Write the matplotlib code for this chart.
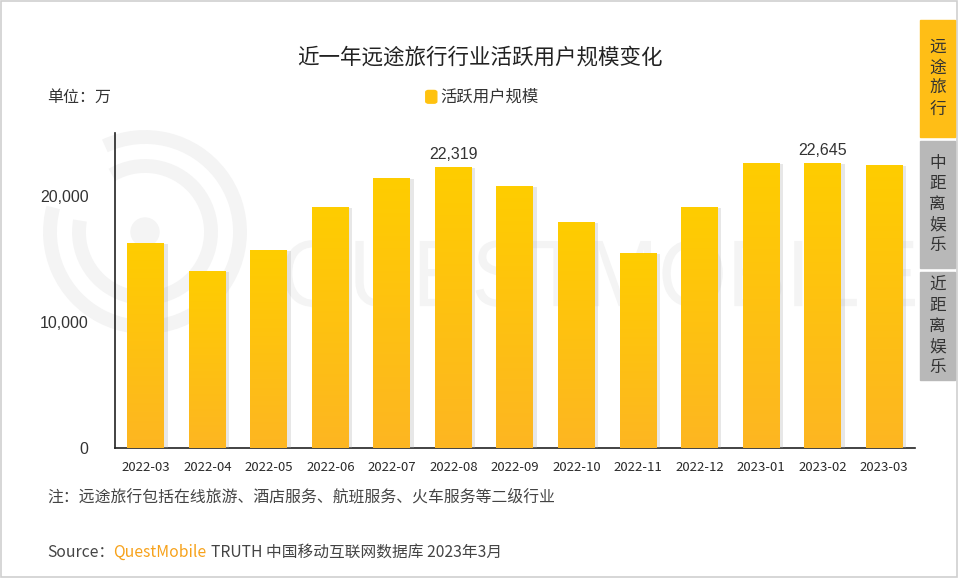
import numpy as np
import matplotlib
matplotlib.use("Agg")
import matplotlib.pyplot as plt
import matplotlib.patheffects as pe
from matplotlib.patches import Rectangle, FancyBboxPatch, Circle, Arc, PathPatch
from matplotlib.textpath import TextPath
from matplotlib.font_manager import FontProperties
from matplotlib.transforms import Affine2D, IdentityTransform
from matplotlib.colors import LinearSegmentedColormap

plt.rcParams['font.family'] = ['Noto Sans CJK SC', 'DejaVu Sans']

months = ['2022-03', '2022-04', '2022-05', '2022-06', '2022-07', '2022-08', '2022-09',
          '2022-10', '2022-11', '2022-12', '2023-01', '2023-02', '2023-03']
users = [16270, 14050, 15710, 19130, 21430, 22319, 20790, 17940, 15480, 19130, 22620, 22645, 22460]
labelled = ['2022-08', '2023-02']
yticks = [0, 10000, 20000]
tabs = ['远\n途\n旅\n行', '中\n距\n离\n娱\n乐', '近\n距\n离\n娱\n乐']

W, H = 960, 578
fig = plt.figure(figsize=(9.6, 5.78), dpi=100)
fig.patch.set_facecolor('white')

# frame of the card
fig.add_artist(Rectangle((0.001, 0.002), 0.996, 0.996, transform=fig.transFigure,
                         fill=False, edgecolor='#cfcfcf', lw=1.2))

# faint watermark (pixel coords, origin bottom-left)
wm = '#f4f4f4'
cx, cy = 145, H - 232
fig.add_artist(Arc((cx, cy), 190, 190, theta1=165, theta2=475, transform=IdentityTransform(),
                   color=wm, lw=10, zorder=0))
fig.add_artist(Arc((cx, cy), 132, 132, theta1=170, theta2=480, transform=IdentityTransform(),
                   color=wm, lw=10, zorder=0))
fig.add_artist(Circle((cx, cy), 14, transform=IdentityTransform(), color=wm, zorder=0))
tp = TextPath((0, 0), 'QUESTMOBILE', size=100, prop=FontProperties(family='Liberation Sans'))
ext = tp.get_extents()
sx = (915 - 284) / ext.width
sy = 84 / ext.height
tr = Affine2D().translate(-ext.x0, -ext.y0).scale(sx, sy).translate(284, H - 324)
fig.add_artist(PathPatch(tp, transform=tr + IdentityTransform(), color=wm, lw=0, zorder=0))

ax = fig.add_axes([0.1198, 0.2249, 0.8332, 0.5450])
ax.set_zorder(1)
ax.set_facecolor('none')
x = np.arange(len(months))
bars = ax.bar(x, users, width=0.6, color='#ffc20f', zorder=3,
              path_effects=[pe.SimplePatchShadow(offset=(2.5, -1), shadow_rgbFace='#aaaaaa', alpha=0.28),
                            pe.Normal()])

cmap = LinearSegmentedColormap.from_list('gold', ['#fdb622', '#ffcd00'])
grad = np.linspace(0, 1, 256).reshape(-1, 1)
for b in bars:
    bx, by, bw, bh = b.get_x(), b.get_y(), b.get_width(), b.get_height()
    im = ax.imshow(grad, cmap=cmap, aspect='auto', origin='lower',
                   extent=(bx, bx + bw, by, by + bh), zorder=4)
    im.set_clip_path(b)

for m, v in zip(months, users):
    if m in labelled:
        ax.text(months.index(m), v + 350, f'{v:,}', ha='center', va='bottom',
                fontsize=11.5, color='#333333', family=['Liberation Sans', 'DejaVu Sans'])

ax.set_xlim(-0.5, len(months) - 0.5)
ax.set_ylim(0, 25000)
ax.set_yticks(yticks)
ax.set_yticklabels([f'{t:,}' for t in yticks], family=['Liberation Sans', 'DejaVu Sans'])
ax.set_xticks(x)
ax.set_xticklabels(months)
ax.tick_params(axis='y', length=0, labelsize=11.5, colors='#333333', pad=19)
ax.tick_params(axis='x', length=0, labelsize=9.5, colors='#2a2a2a', pad=9)
for s in ['top', 'right']:
    ax.spines[s].set_visible(False)
for s in ['left', 'bottom']:
    ax.spines[s].set_color('#222222')
    ax.spines[s].set_linewidth(1.2)

fig.text(0.5, 0.9, '近一年远途旅行行业活跃用户规模变化', fontsize=15.5, ha='center', va='center',
         color='#222222', fontweight='medium')
fig.text(0.049, 0.832, '单位：万', fontsize=11.5, ha='left', va='center', color='#333333')
fig.add_artist(FancyBboxPatch((0.4435, 0.8215), 0.0115, 0.022, boxstyle='round,pad=0,rounding_size=0.003',
                              transform=fig.transFigure, color='#ffc20f'))
fig.text(0.459, 0.832, '活跃用户规模', fontsize=11.8, ha='left', va='center', color='#333333')
fig.text(0.049, 0.14, '注：远途旅行包括在线旅游、酒店服务、航班服务、火车服务等二级行业',
         fontsize=11.4, ha='left', va='center', color='#444444')
fig.text(0.049, 0.045, 'Source：', fontsize=11.3, ha='left', va='center', color='#444444')
fig.text(0.118, 0.045, 'QuestMobile', fontsize=11.3, ha='left', va='center', color='#f7a21b')
fig.text(0.22, 0.045, 'TRUTH 中国移动互联网数据库 2023年3月', fontsize=11.3, ha='left', va='center',
         color='#444444')

# side tabs
tab_boxes = [(20, 137, '#ffbe16'), (141, 268, '#b8b8b8'), (272, 380, '#b8b8b8')]
for t, (y0, y1, c) in zip(tabs, tab_boxes):
    fig.add_artist(Rectangle((920 / W, 1 - y1 / H), 35 / W, (y1 - y0) / H,
                             transform=fig.transFigure, color=c, zorder=5))
    fig.text(937.5 / W, 1 - (y0 + y1) / 2 / H, t, fontsize=12, ha='center', va='center',
             color='#333333', linespacing=1.28, zorder=6)

fig.savefig('out.png', dpi=100, facecolor='white')
